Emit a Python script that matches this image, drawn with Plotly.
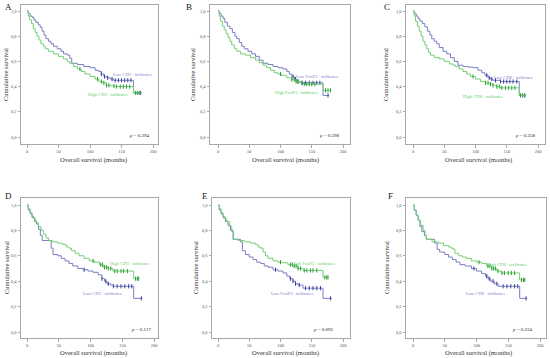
import numpy as np
import plotly.graph_objects as go

# ---------------- data ----------------
# Panel A: CD3+
a_low_t = [0, 2, 5, 8, 11, 14, 18, 21, 24, 27, 30, 34, 38, 42, 48, 54, 58, 64, 68, 71, 80, 90, 100, 108, 114, 118, 122, 126, 132, 137, 169, 182]
a_low_s = [1.0, 0.98, 0.96, 0.95, 0.93, 0.91, 0.89, 0.87, 0.84, 0.81, 0.78, 0.76, 0.74, 0.72, 0.70, 0.68, 0.66, 0.65, 0.625, 0.585, 0.575, 0.56, 0.55, 0.53, 0.52, 0.50, 0.48, 0.47, 0.46, 0.45, 0.35, 0.35]
a_high_t = [0, 2, 4, 7, 10, 13, 16, 19, 22, 26, 29, 34, 42, 50, 58, 64, 68, 74, 80, 86, 92, 100, 108, 114, 120, 126, 134, 142, 169, 182]
a_high_s = [1.0, 0.96, 0.93, 0.90, 0.86, 0.83, 0.80, 0.77, 0.74, 0.72, 0.70, 0.68, 0.66, 0.64, 0.62, 0.60, 0.585, 0.56, 0.54, 0.52, 0.50, 0.48, 0.46, 0.44, 0.43, 0.41, 0.405, 0.40, 0.35, 0.35]
a_low_cens = [118, 123, 128, 135, 140, 145, 150, 155, 160, 165, 180]
a_high_cens = [84, 112, 118, 122, 126, 130, 138, 142, 148, 153, 158, 163, 172, 175, 178]

# Panel B: FoxP3+
b_low_t = [0, 2, 5, 8, 11, 15, 19, 23, 27, 30, 34, 38, 42, 48, 54, 60, 66, 72, 80, 88, 96, 104, 110, 114, 118, 122, 126, 131, 168, 178]
b_low_s = [1.0, 0.98, 0.96, 0.94, 0.91, 0.88, 0.86, 0.83, 0.80, 0.78, 0.75, 0.72, 0.70, 0.68, 0.66, 0.64, 0.61, 0.585, 0.575, 0.56, 0.55, 0.54, 0.52, 0.50, 0.48, 0.46, 0.44, 0.43, 0.33, 0.33]
b_high_t = [0, 2, 4, 7, 10, 13, 16, 19, 22, 26, 30, 36, 44, 52, 60, 66, 72, 78, 84, 90, 96, 102, 110, 118, 124, 132, 137, 168, 181]
b_high_s = [1.0, 0.96, 0.92, 0.88, 0.85, 0.82, 0.79, 0.76, 0.73, 0.70, 0.68, 0.66, 0.65, 0.63, 0.61, 0.59, 0.57, 0.55, 0.53, 0.51, 0.50, 0.49, 0.47, 0.455, 0.44, 0.43, 0.42, 0.37, 0.37]
b_low_cens = [120, 124, 128, 135, 140, 146, 152, 158, 163, 176]
b_high_cens = [100, 118, 122, 125, 128, 134, 138, 142, 146, 150, 155, 172, 176, 180]

# Panel C: CD8+
c_low_t = [0, 2, 5, 8, 11, 15, 19, 23, 27, 30, 34, 38, 42, 48, 54, 60, 66, 72, 80, 88, 96, 104, 110, 115, 120, 124, 128, 140, 170, 181]
c_low_s = [1.0, 0.98, 0.96, 0.94, 0.92, 0.90, 0.875, 0.84, 0.81, 0.78, 0.76, 0.74, 0.71, 0.68, 0.66, 0.63, 0.60, 0.57, 0.56, 0.555, 0.55, 0.53, 0.51, 0.49, 0.47, 0.46, 0.45, 0.44, 0.33, 0.33]
c_high_t = [0, 2, 4, 7, 10, 13, 16, 19, 22, 25, 28, 34, 42, 50, 58, 64, 68, 74, 80, 86, 92, 100, 108, 116, 122, 128, 134, 140, 170, 181]
c_high_s = [1.0, 0.96, 0.92, 0.88, 0.84, 0.80, 0.76, 0.73, 0.70, 0.67, 0.65, 0.63, 0.62, 0.60, 0.58, 0.57, 0.56, 0.54, 0.52, 0.50, 0.48, 0.46, 0.44, 0.43, 0.42, 0.41, 0.40, 0.39, 0.33, 0.33]
c_low_cens = [118, 122, 126, 132, 140, 145, 150, 155, 160, 166, 178]
c_high_cens = [96, 116, 120, 124, 128, 134, 138, 142, 148, 153, 158, 163, 172, 175, 179]

# Panel D: CD3+
d_high_t = [0, 2, 5, 8, 11, 14, 18, 22, 26, 30, 34, 40, 48, 56, 62, 66, 70, 76, 82, 90, 98, 106, 114, 120, 128, 135, 168, 176]
d_high_s = [1.0, 0.97, 0.94, 0.91, 0.89, 0.86, 0.83, 0.80, 0.77, 0.74, 0.72, 0.71, 0.70, 0.69, 0.67, 0.66, 0.64, 0.62, 0.60, 0.58, 0.56, 0.55, 0.53, 0.51, 0.50, 0.48, 0.42, 0.42]
d_low_t = [0, 2, 5, 8, 12, 15, 18, 21, 24, 38, 41, 48, 54, 60, 66, 72, 80, 88, 96, 104, 112, 118, 122, 126, 132, 136, 168, 182]
d_low_s = [1.0, 0.96, 0.93, 0.90, 0.87, 0.85, 0.81, 0.76, 0.72, 0.66, 0.61, 0.60, 0.58, 0.56, 0.54, 0.52, 0.50, 0.49, 0.48, 0.47, 0.45, 0.42, 0.40, 0.38, 0.37, 0.36, 0.265, 0.265]
d_high_cens = [104, 116, 119, 122, 125, 128, 132, 138, 142, 148, 152, 158, 171, 174, 176]
d_low_cens = [90, 118, 124, 128, 136, 142, 148, 154, 160, 165, 180]

# Panel E: FoxP3+
e_high_t = [0, 2, 5, 8, 11, 14, 18, 22, 25, 32, 42, 52, 60, 64, 68, 72, 76, 80, 88, 96, 104, 112, 120, 128, 136, 168, 176]
e_high_s = [1.0, 0.97, 0.94, 0.91, 0.89, 0.87, 0.83, 0.79, 0.73, 0.72, 0.71, 0.70, 0.69, 0.67, 0.66, 0.63, 0.60, 0.58, 0.56, 0.55, 0.545, 0.53, 0.52, 0.50, 0.485, 0.43, 0.43]
e_low_t = [0, 2, 5, 8, 12, 16, 20, 24, 36, 39, 44, 50, 56, 62, 68, 74, 80, 88, 96, 104, 110, 115, 120, 124, 128, 136, 168, 182]
e_low_s = [1.0, 0.96, 0.93, 0.90, 0.87, 0.84, 0.80, 0.73, 0.71, 0.64, 0.61, 0.59, 0.57, 0.55, 0.54, 0.52, 0.51, 0.49, 0.48, 0.465, 0.44, 0.42, 0.40, 0.38, 0.37, 0.345, 0.265, 0.265]
e_high_cens = [100, 116, 119, 122, 125, 128, 132, 138, 142, 148, 152, 158, 171, 174, 176]
e_low_cens = [92, 116, 120, 124, 130, 140, 146, 152, 158, 164, 180]

# Panel F: CD8+
f_high_t = [0, 2, 5, 8, 12, 16, 19, 21, 30, 40, 48, 56, 60, 64, 66, 72, 78, 84, 92, 100, 108, 116, 124, 132, 139, 168, 176]
f_high_s = [1.0, 0.96, 0.92, 0.88, 0.84, 0.80, 0.76, 0.73, 0.71, 0.70, 0.68, 0.67, 0.66, 0.65, 0.62, 0.60, 0.59, 0.58, 0.56, 0.55, 0.54, 0.52, 0.50, 0.48, 0.465, 0.41, 0.41]
f_low_t = [0, 2, 5, 8, 11, 14, 18, 21, 34, 38, 42, 50, 56, 62, 68, 74, 82, 92, 100, 108, 114, 118, 122, 128, 134, 168, 180]
f_low_s = [1.0, 0.96, 0.92, 0.88, 0.83, 0.79, 0.76, 0.73, 0.70, 0.65, 0.63, 0.61, 0.59, 0.57, 0.55, 0.53, 0.52, 0.50, 0.48, 0.46, 0.44, 0.42, 0.40, 0.38, 0.36, 0.265, 0.265]
f_high_cens = [104, 118, 121, 124, 127, 130, 134, 140, 144, 150, 155, 160, 171, 174, 176]
f_low_cens = [96, 116, 120, 126, 132, 142, 148, 154, 160, 165, 178]

panel_letters = ["A", "B", "C", "D", "E", "F"]
low_labels = ["Low CD3+ infiltrates", "Low FoxP3+ infiltrates", "Low CD8+ infiltrates",
              "Low CD3+ infiltrates", "Low FoxP3+ infiltrates", "Low CD8+ infiltrates"]
high_labels = ["High CD3+ infiltrates", "High FoxP3+ infiltrates", "High CD8+ infiltrates",
               "High CD3+ infiltrates", "High FoxP3+ infiltrates", "High CD8+ infiltrates"]
p_values = ["0.294", "0.598", "0.358", "0.117", "0.092", "0.224"]

x_ticks = [0, 50, 100, 150, 200]
y_ticks = [0.0, 0.2, 0.4, 0.6, 0.8, 1.0]
y_tick_text = ["0,0", "0,2", "0,4", "0,6", "0,8", "1,0"]

# ---------------- styling / layout ----------------
W, H = 550, 358
BLUE = "#7a7ec2"
BLUE_D = "#3d429e"
GREEN = "#74cf74"
GREEN_D = "#2f9f3c"
FONT = "Liberation Serif"

panels = [
    dict(low=(a_low_t, a_low_s, a_low_cens), high=(a_high_t, a_high_s, a_high_cens),
         frame=(21, 158, 5, 144), x0=27, x200=153, y1=11, y0=137),
    dict(low=(b_low_t, b_low_s, b_low_cens), high=(b_high_t, b_high_s, b_high_cens),
         frame=(210, 350, 5, 144), x0=218, x200=343, y1=11, y0=137),
    dict(low=(c_low_t, c_low_s, c_low_cens), high=(c_high_t, c_high_s, c_high_cens),
         frame=(406, 545, 5, 144), x0=413, x200=538, y1=11, y0=137),
    dict(low=(d_low_t, d_low_s, d_low_cens), high=(d_high_t, d_high_s, d_high_cens),
         frame=(21, 158, 198, 338), x0=27, x200=154, y1=205, y0=332),
    dict(low=(e_low_t, e_low_s, e_low_cens), high=(e_high_t, e_high_s, e_high_cens),
         frame=(212, 350, 198, 338), x0=218, x200=343, y1=205, y0=332),
    dict(low=(f_low_t, f_low_s, f_low_cens), high=(f_high_t, f_high_s, f_high_cens),
         frame=(406, 546, 198, 338), x0=413, x200=540, y1=205, y0=332),
]

# label positions (pixels) for annotations
letter_pos = [(3, 7), (184, 7), (382, 7), (3, 196), (200, 196), (386, 196)]
low_pos = [(132, 75), (317, 76), (513, 78), (102, 293), (292, 293), (485, 293)]
high_pos = [(108, 94), (296, 92), (483, 97), (130, 263), (313, 263), (507, 264)]
p_pos = [(152, 135), (342, 135), (538, 135), (153, 329), (336, 329), (535, 329)]
xtitle_pos = [(93, 160), (285, 160), (478, 160), (93, 353), (285, 353), (478, 353)]
ytitle_pos = [(6, 75), (193, 75), (386, 75), (6, 268), (195, 268), (386, 268)]


def step_value(t_arr, s_arr, t):
    idx = np.searchsorted(np.asarray(t_arr), t, side="right") - 1
    return float(np.asarray(s_arr)[max(idx, 0)])


fig = go.Figure()
layout = {}
annotations = []

def px_x(p):
    return p / W

def px_y(p):
    return 1 - p / H

for i, p in enumerate(panels):
    n = "" if i == 0 else str(i + 1)
    xa, ya = "x" + n, "y" + n
    fl, fr, ft, fb = p["frame"]
    sx = (p["x200"] - p["x0"]) / 200.0
    sy = (p["y0"] - p["y1"]) / 1.0
    xr = [(fl - p["x0"]) / sx, (fr - p["x0"]) / sx]
    yr = [(p["y0"] - fb) / sy, (p["y0"] - ft) / sy]

    for key, col, colD in (("low", BLUE, BLUE_D), ("high", GREEN, GREEN_D)):
        t_arr, s_arr, cens = p[key]
        fig.add_trace(go.Scatter(x=t_arr, y=s_arr, mode="lines", line=dict(color=col, width=1, shape="hv"),
                                 xaxis=xa, yaxis=ya, showlegend=False, hoverinfo="skip"))
        cy = [step_value(t_arr, s_arr, c) for c in cens]
        fig.add_trace(go.Scatter(x=cens, y=cy, mode="markers",
                                 marker=dict(symbol="line-ns-open", size=3, color=colD,
                                             line=dict(color=colD, width=1)),
                                 xaxis=xa, yaxis=ya, showlegend=False, hoverinfo="skip"))

    axis_common = dict(showline=True, mirror=True, linecolor="#a8a8a8", linewidth=1, showgrid=False,
                       zeroline=False, ticks="outside", ticklen=2.5, tickwidth=0.8, tickcolor="#a8a8a8",
                       tickfont=dict(family=FONT, size=4.5, color="#555555"), fixedrange=True)
    layout["xaxis" + n] = dict(axis_common, domain=[px_x(fl), px_x(fr)], range=xr, anchor=ya,
                               tickvals=x_ticks, ticktext=[str(v) for v in x_ticks])
    layout["yaxis" + n] = dict(axis_common, domain=[px_y(fb), px_y(ft)], range=yr, anchor=xa,
                               tickvals=y_ticks, ticktext=y_tick_text)

    def ann(text, pos, size, color="#222222", xanchor="center", yanchor="middle", angle=0):
        annotations.append(dict(text=text, x=px_x(pos[0]), y=px_y(pos[1]), xref="paper", yref="paper",
                                showarrow=False, xanchor=xanchor, yanchor=yanchor, textangle=angle,
                                font=dict(family=FONT, size=size, color=color)))

    ann(panel_letters[i], letter_pos[i], 9, "#111111", "left")
    ann(low_labels[i], low_pos[i], 4.5, "#7f84cc")
    ann(high_labels[i], high_pos[i], 4.5, "#5fcd5f")
    ann("<i>p</i> = " + p_values[i], p_pos[i], 5, "#222222", "right")
    ann("Overall survival (months)", xtitle_pos[i], 6.5, "#333333")
    ann("Cumulative survival", ytitle_pos[i], 6.5, "#333333", angle=-90)

fig.update_layout(**layout)
fig.update_layout(width=W, height=H, margin=dict(l=0, r=0, t=0, b=0), plot_bgcolor="white",
                  paper_bgcolor="white", annotations=annotations, showlegend=False)

fig.write_html("out.html", config={"displayModeBar": False},
               post_script="document.body.style.margin='0';document.body.style.overflow='hidden';")
